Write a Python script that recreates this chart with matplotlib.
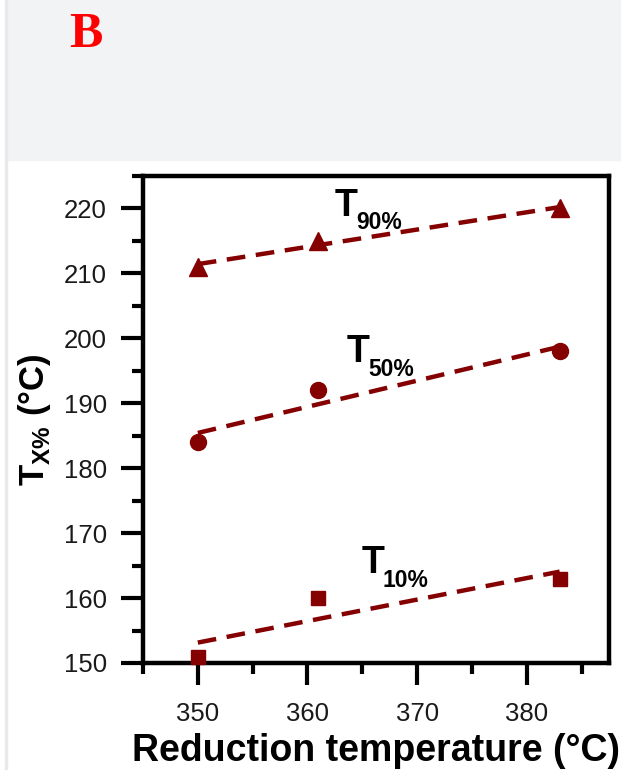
import numpy as np
import matplotlib
matplotlib.use("Agg")
import matplotlib.pyplot as plt
from matplotlib.patches import Rectangle
from matplotlib.ticker import MultipleLocator

# ─── Data ─────────────────────────────────────────────────────────────────────
red_temp = [350, 361, 383]          # reduction temperature (°C)
t10 = [151, 160, 163]
t50 = [184, 192, 198]
t90 = [211, 215, 220]

series = [
    ("10%", t10, "s", 10, (364.9, 163.8)),
    ("50%", t50, "o", 11.5, (363.6, 196.3)),
    ("90%", t90, "^", 13, (362.5, 218.9)),
]

COLOR = "#850000"
plt.rcParams["font.family"] = ["Liberation Sans", "DejaVu Sans"]
plt.rcParams["mathtext.fontset"] = "custom"
plt.rcParams["mathtext.rm"] = "Liberation Sans"
plt.rcParams["mathtext.bf"] = "Liberation Sans:bold"

fig = plt.figure(figsize=(6.21, 7.70), dpi=100, facecolor="white")

# grey header band with panel letter
fig.patches.append(Rectangle((7 / 621, 1 - 160 / 770), 1, 160 / 770,
                             transform=fig.transFigure, color="#f2f3f4", zorder=0))
fig.patches.append(Rectangle((5 / 621, 0), 2 / 621, 1,
                             transform=fig.transFigure, color="#e8e9ea", zorder=0))
fig.text(69 / 621, 1 - 47 / 770, "B", color="#ff0000", fontsize=36,
         fontweight="bold", family="Liberation Serif", ha="left", va="baseline")

ax = fig.add_axes([143 / 621, 1 - 663 / 770, 466 / 621, 487 / 770])

x = np.array(red_temp, dtype=float)
for name, ys, mk, ms, (tx, ty) in series:
    ys = np.array(ys, dtype=float)
    ax.plot(x, ys, ls="none", marker=mk, ms=ms, color=COLOR, zorder=3,
            clip_on=False)
    k, b = np.polyfit(x, ys, 1)
    xf = np.array([x.min(), x.max()])
    ax.plot(xf, k * xf + b, color=COLOR, lw=3.2, dashes=(4.2, 2.4), zorder=2)
    ax.text(tx, ty, "T", fontsize=27, fontweight="bold", ha="left",
            va="baseline")
    ax.annotate(name, (tx, ty), xytext=(15.5, -9.5), textcoords="offset points",
                fontsize=16.5, fontweight="bold", ha="left", va="baseline")

ax.set_xlim(345, 387.5)
ax.set_ylim(150, 225)
ax.xaxis.set_minor_locator(MultipleLocator(5))
ax.yaxis.set_minor_locator(MultipleLocator(5))
ax.set_xticks([350, 360, 370, 380])
ax.set_yticks(range(150, 221, 10))

ax.tick_params(which="major", direction="out", length=16, width=3,
               labelsize=18.5, labelcolor="#1a1a1a")
ax.tick_params(axis="x", which="major", pad=12)
ax.tick_params(axis="y", which="major", pad=10)
ax.tick_params(which="minor", direction="out", length=8, width=3)
for s in ax.spines.values():
    s.set_linewidth(3.2)

ax.set_xlabel("Reduction temperature (°C)", fontsize=27, fontweight="bold",
              labelpad=5)
ax.set_ylabel(r"T$_{\mathbf{X\%}}$ (°C)", fontsize=25, fontweight="bold",
              labelpad=8)

fig.savefig("out.png", dpi=100, facecolor=fig.get_facecolor())
